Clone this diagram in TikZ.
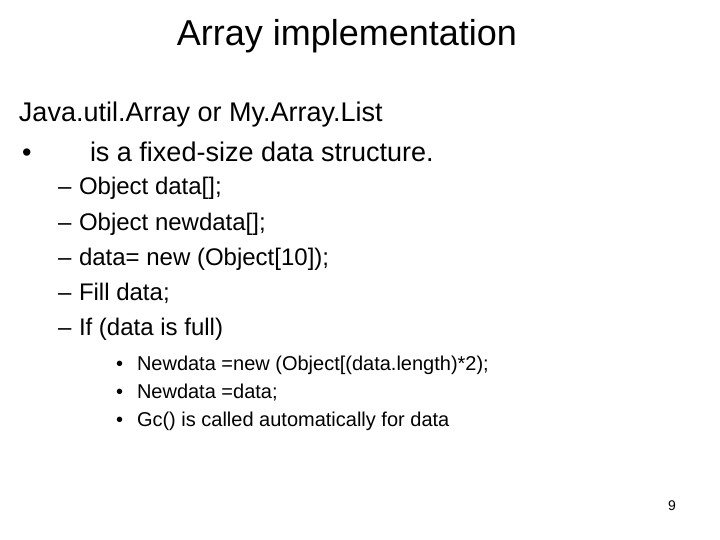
\documentclass[tikz,border=0pt]{standalone}
\usepackage{fontspec}
\setmainfont{Liberation Sans}
\begin{document}
\begin{tikzpicture}[x=1pt,y=-1pt,
  txt/.style={anchor=base west,inner sep=0pt,outer sep=0pt},
  big/.style={txt,font=\fontsize{27}{30}\selectfont},
  mid/.style={txt,font=\fontsize{24}{28}\selectfont},
  sml/.style={txt,font=\fontsize{20}{24}\selectfont}]
\useasboundingbox[fill=white] (0,0) rectangle (720,540);
\node[txt,font=\fontsize{36}{40}\selectfont,anchor=base] (title) at (347,46) {Array implementation};
\node[big] (l1) at (19,122) {Java.util.Array or My.Array.List};
\node[big] (b1) at (22,162) {•};
\node[big] (l2) at (90,162) {is a fixed-size data structure.};
\foreach \y/\t [count=\i] in {195/{Object data[];},230/{Object newdata[];},265/{data= new (Object[10]);},300/{Fill data;},335/{If (data is full)}}{
  \node[mid] (d\i) at (58,\y) {–};
  \node[mid] (m\i) at (79,\y) {\t};
}
\foreach \y/\t [count=\i] in {370/{Newdata =new (Object[(data.length)*2);},398/{Newdata =data;},426/{Gc() is called automatically for data}}{
  \node[sml] (s\i) at (116,\y) {•};
  \node[sml] (n\i) at (137,\y) {\t};
}
\node[txt,font=\fontsize{14}{16}\selectfont] (pg) at (668,510) {9};
\end{tikzpicture}
\end{document}
